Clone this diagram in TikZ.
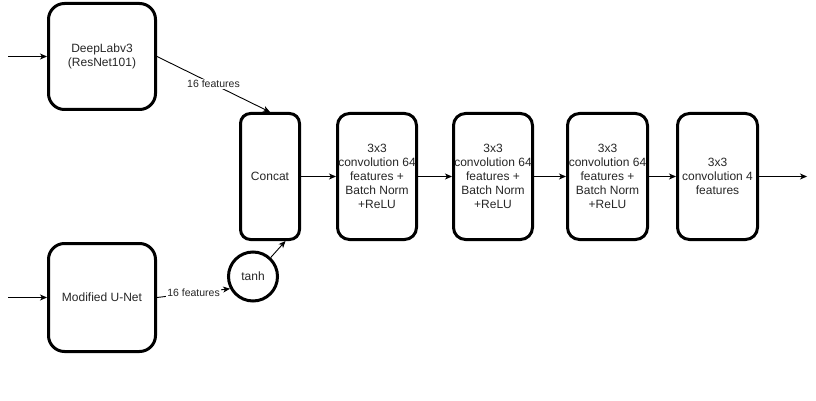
\documentclass[tikz,border=0pt]{standalone}
\usepackage{fontspec}
\setmainfont{Liberation Sans}
\usetikzlibrary{arrows.meta,calc}
\begin{document}
\begin{tikzpicture}[x=1pt,y=-1pt,
  blk/.style={draw=black, line width=3pt, rounded corners=#1, align=center,
    font=\fontsize{12}{14}\selectfont, text=black!85, inner sep=0pt},
  blk/.default=12pt,
  conn/.style={draw=black, line width=0.9pt, -{Stealth[length=7pt,width=6pt,inset=2pt]}},
  lbl/.style={fill=white, inner sep=1pt, font=\fontsize{10.5}{12}\selectfont, text=black!85}
]
\useasboundingbox (0,0) rectangle (816,401);
\node[blk=16pt, minimum width=107pt, minimum height=106pt] (dl) at (102,56.5) {DeepLabv3\\(ResNet101)};
\node[blk=16pt, minimum width=107pt, minimum height=108pt] (un) at (102,297.5) {Modified U-Net};
\node[blk=10pt, minimum width=59pt, minimum height=126pt] (cc) at (270,176.5) {Concat};
\node[blk, minimum width=79pt, minimum height=126pt] (c1) at (377,176.5) {3x3\\convolution 64\\features +\\Batch Norm\\+ReLU};
\node[blk, minimum width=79pt, minimum height=126pt] (c2) at (493,176.5) {3x3\\convolution 64\\features +\\Batch Norm\\+ReLU};
\node[blk, minimum width=80pt, minimum height=126pt] (c3) at (607.5,176.5) {3x3\\convolution 64\\features +\\Batch Norm\\+ReLU};
\node[blk, minimum width=80pt, minimum height=126pt] (c4) at (717.5,176.5) {3x3\\convolution 4\\features};
\node[draw=black, line width=3pt, circle, minimum size=49pt, inner sep=0pt,
  font=\fontsize{12}{14}\selectfont, text=black!85] (th) at (253,276.5) {tanh};
\coordinate (in1) at (8,56.5);
\coordinate (in2) at (8,297.5);
\coordinate (out) at (807,176.5);
\draw[conn] (in1) -- (dl.west);
\draw[conn] (in2) -- (un.west);
\draw[conn] (dl.east) -- node[lbl] {16 features} (cc.north);
\draw[conn] (un.east) -- node[lbl] {16 features} (th.208);
\draw[conn] (th.47) -- ($(cc.south)!0.5!(cc.south east)$);
\draw[conn] (cc.east) -- (c1.west);
\draw[conn] (c1.east) -- (c2.west);
\draw[conn] (c2.east) -- (c3.west);
\draw[conn] (c3.east) -- (c4.west);
\draw[conn] (c4.east) -- (out);
\end{tikzpicture}
\end{document}
